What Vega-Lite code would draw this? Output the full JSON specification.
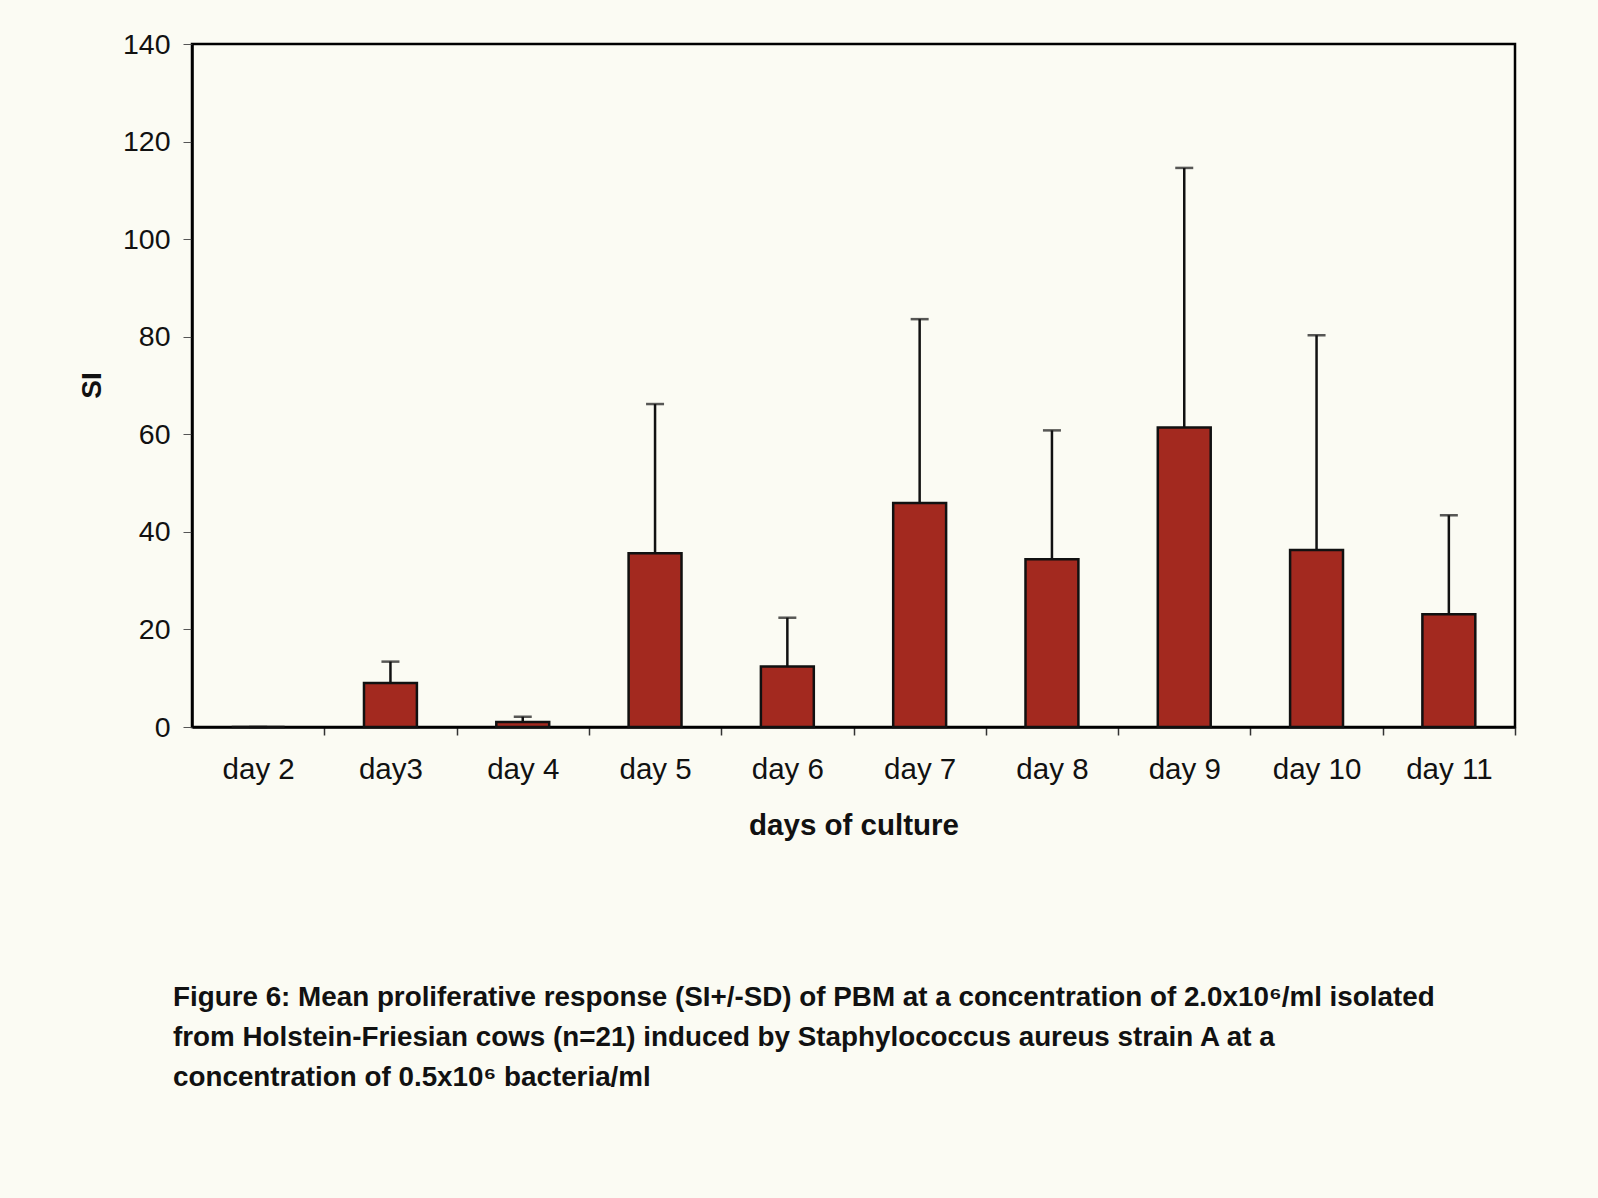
{
  "$schema": "https://vega.github.io/schema/vega-lite/v6.json",
  "autosize": {"type": "none"},
  "padding": {"left": 192, "top": 44, "right": 83, "bottom": 471},
  "width": 1323,
  "height": 683,
  "background": "#fbfbf3",
  "config": {
    "font": "Liberation Sans",
    "view": {"stroke": "#000000", "strokeWidth": 2.5}
  },
  "title": {
    "text": [
      "Figure 6: Mean proliferative response (SI+/-SD) of PBM at a concentration of 2.0x10⁶/ml isolated",
      "from Holstein-Friesian cows (n=21) induced by Staphylococcus aureus strain A at a",
      "concentration of 0.5x10⁶ bacteria/ml"
    ],
    "orient": "bottom",
    "anchor": "start",
    "frame": "group",
    "dx": -19,
    "offset": 144,
    "font": "Liberation Sans",
    "fontSize": 27.8,
    "fontWeight": "bold",
    "lineHeight": 40,
    "color": "#111111"
  },
  "data": {
    "values": [
      {"day": "day 2", "SI": 0, "upper": 0},
      {"day": "day3", "SI": 9.0, "upper": 13.4},
      {"day": "day 4", "SI": 1.0, "upper": 2.1},
      {"day": "day 5", "SI": 35.6, "upper": 66.2},
      {"day": "day 6", "SI": 12.4, "upper": 22.4},
      {"day": "day 7", "SI": 45.9, "upper": 83.6},
      {"day": "day 8", "SI": 34.4, "upper": 60.8},
      {"day": "day 9", "SI": 61.4, "upper": 114.6},
      {"day": "day 10", "SI": 36.3, "upper": 80.3},
      {"day": "day 11", "SI": 23.1, "upper": 43.4}
    ]
  },
  "encoding": {
    "x": {
      "field": "day",
      "type": "nominal",
      "sort": null,
      "scale": {"paddingInner": 0.6, "paddingOuter": 0.3},
      "axis": {
        "title": "days of culture",
        "titleFontSize": 29.5,
        "titleFontWeight": "bold",
        "titleColor": "#111111",
        "titlePadding": 28,
        "labelAngle": 0,
        "labelFontSize": 29.5,
        "labelColor": "#111111",
        "labelPadding": 20,
        "tickOffset": 66.15,
        "labelOffset": -66.15,
        "tickSize": 8,
        "tickColor": "#333333",
        "tickWidth": 1.5,
        "domainColor": "#000000",
        "domainWidth": 2.5
      }
    }
  },
  "layer": [
    {
      "mark": {"type": "rule", "stroke": "#111111", "strokeWidth": 2.5},
      "encoding": {
        "y": {"field": "SI", "type": "quantitative"},
        "y2": {"field": "upper"}
      }
    },
    {
      "mark": {"type": "tick", "color": "#111111", "size": 18, "thickness": 2.5},
      "encoding": {
        "y": {"field": "upper", "type": "quantitative"}
      }
    },
    {
      "mark": {"type": "bar", "fill": "#a3291f", "stroke": "#111111", "strokeWidth": 2.5},
      "encoding": {
        "y": {
          "field": "SI",
          "type": "quantitative",
          "scale": {"domain": [0, 140]},
          "axis": {
            "title": "SI",
            "titleFontSize": 28,
            "titleFontWeight": "bold",
            "titleColor": "#111111",
            "titleX": -86,
            "titleY": 341,
            "values": [0, 20, 40, 60, 80, 100, 120, 140],
            "labelFontSize": 28.5,
            "labelColor": "#111111",
            "labelPadding": 13,
            "tickSize": 9,
            "tickColor": "#555555",
            "tickWidth": 1,
            "grid": false,
            "domainColor": "#000000",
            "domainWidth": 2.5
          }
        }
      }
    }
  ]
}
